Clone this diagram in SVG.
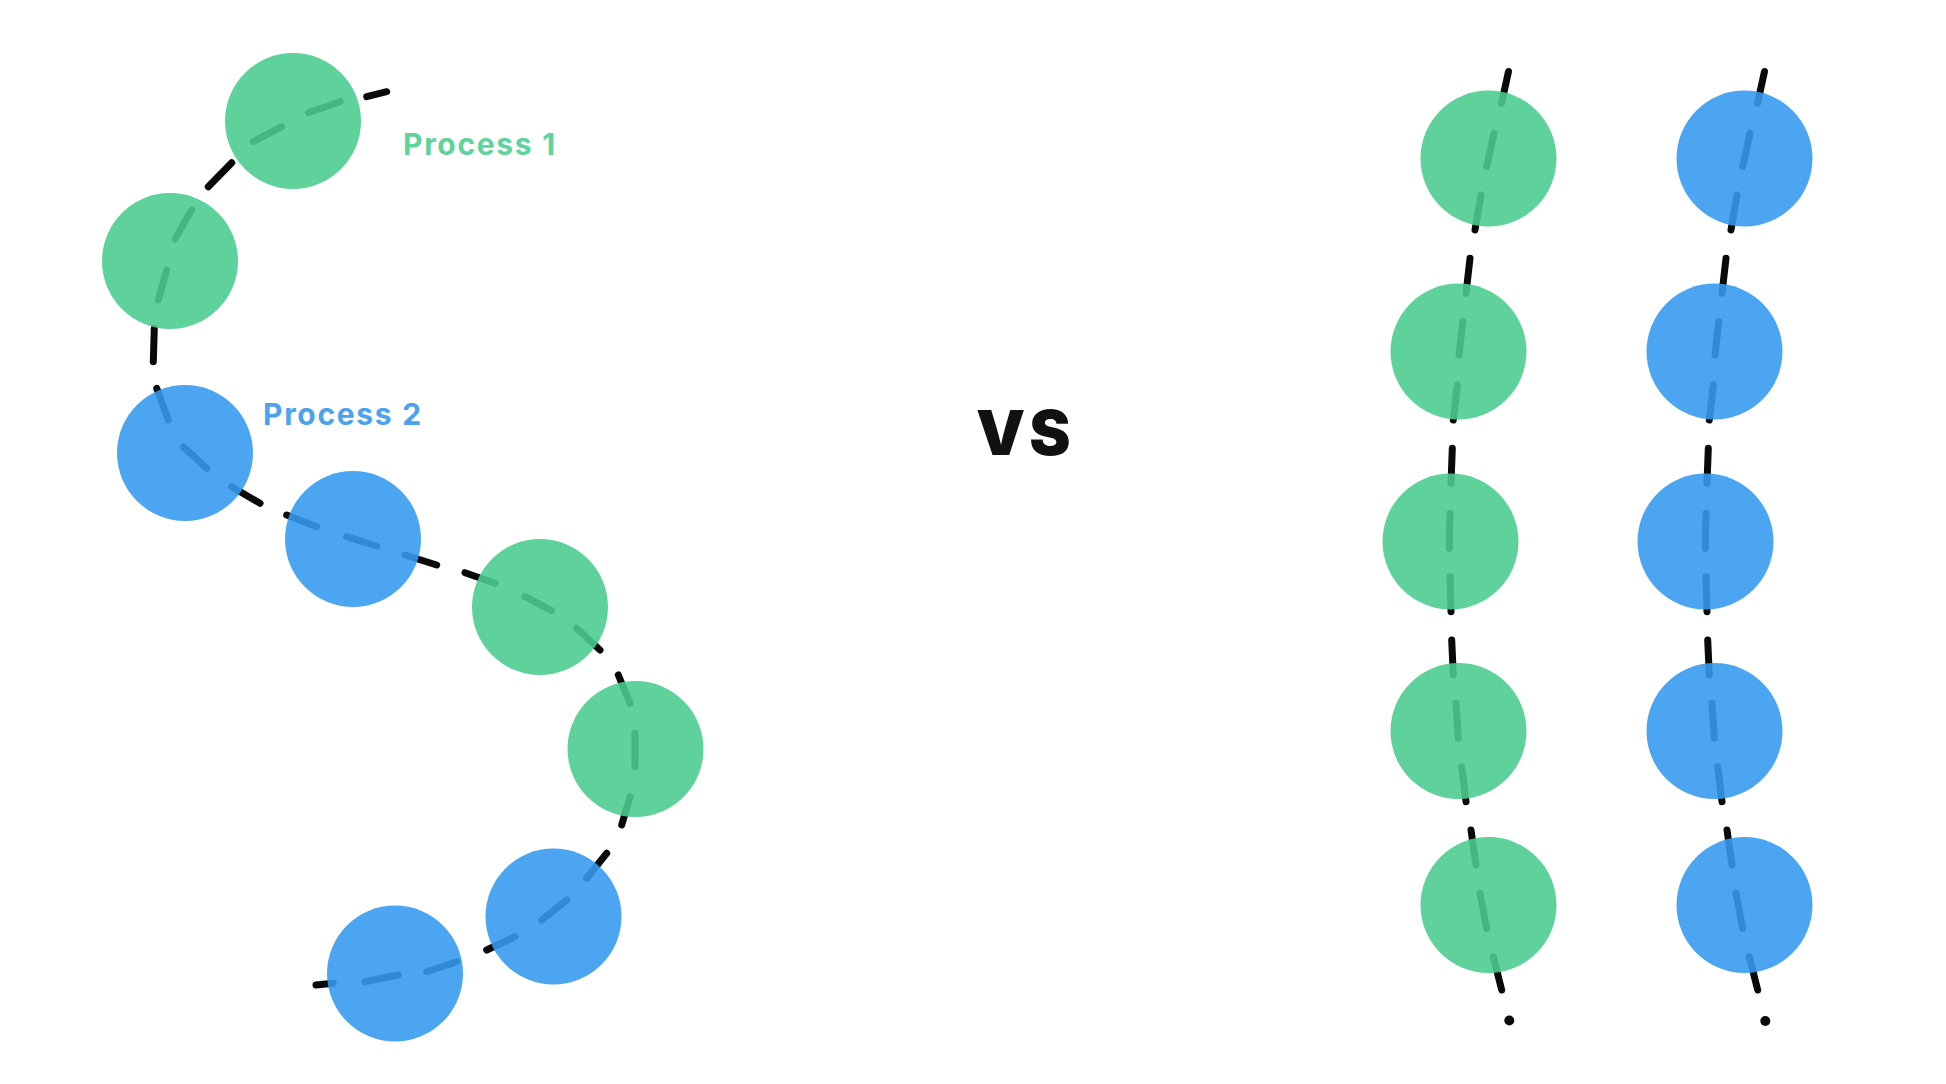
<svg xmlns="http://www.w3.org/2000/svg" width="1946" height="1084" viewBox="0 0 1946 1084">
  <style>
    .dash { fill: none; stroke: #0a0a0a; stroke-width: 7; stroke-linecap: round; stroke-linejoin: round; }
    .dot { fill: #0a0a0a; }
    .g { fill: #4acc8e; fill-opacity: 0.89; }
    .b { fill: #369aee; fill-opacity: 0.89; }
    .lbl { font-family: "Inter", "Liberation Sans", sans-serif; font-weight: 700; font-size: 30px; letter-spacing: 1.7px; }
    .vs { font-family: "Inter", "Liberation Sans", sans-serif; font-weight: 900; font-size: 62px; letter-spacing: 4px; fill: #111111; }
  </style>
  <rect width="1946" height="1084" fill="#ffffff"/>

  <g id="connectors">
    <path id="chain-left" class="dash" d="
      M386.7,91.7 L366.7,96.7
      M340,101.7 L308.3,112.7
      M281.7,126.7 L253.3,141.7
      M231.7,162.7 L208.3,186.7
      M191.7,210 L175,239
      M166.7,270 L158.3,300
      M154.3,328.3 L153.3,361.7
      M156.7,388.3 L168.3,420
      M183.3,446.7 L206.7,468.3
      M231.7,486.7 L260,503.3
      M286.7,515 L316.7,526.7
      M346.7,536.7 L376.7,546
      M405,555 L436.7,565
      M465,572.7 L495,583.3
      M525,596.7 L551.7,610.7
      M576.7,628.3 L600,650
      M618.3,675 L630,703.3
      M635,733.3 L635,766.7
      M630,796.7 L621.7,825
      M606.7,853.3 L586.7,878.3
      M566.7,900 L541.7,920
      M515,936.7 L486.7,950
      M456.7,961.7 L426.7,971.7
      M398.3,975 L365,981.7
      M333.3,983.3 L316,985"/>
    <path id="chain-right-1" class="dash" d="
      M1508.5,71.5 L1501.5,103.5
      M1494,133.3 L1486.7,166.7
      M1481,195 L1475,230
      M1470,258.3 L1466,293.3
      M1462.7,321.7 L1459,355
      M1457.3,385 L1453.3,420
      M1452.3,448.3 L1451,483.3
      M1450,513.3 L1449.3,548.3
      M1450,576.7 L1451,611.7
      M1451.7,640 L1453.3,675
      M1456,703.3 L1458.3,738.3
      M1461.7,766.7 L1466,801.7
      M1471,830 L1476,865
      M1480,893.3 L1486.7,928.3
      M1493.3,956.7 L1501.7,990"/>
    <circle class="dot" cx="1509.3" cy="1020.5" r="5"/>
    <path id="chain-right-2" class="dash" d="
      M1764.5,71.5 L1757.5,103.5
      M1750,133.3 L1742.7,166.7
      M1737,195 L1731,230
      M1726,258.3 L1722,293.3
      M1718.7,321.7 L1715,355
      M1713.3,385 L1709.3,420
      M1708.3,448.3 L1707,483.3
      M1706,513.3 L1705.3,548.3
      M1706,576.7 L1707,611.7
      M1707.7,640 L1709.3,675
      M1712,703.3 L1714.3,738.3
      M1717.7,766.7 L1722,801.7
      M1727,830 L1732,865
      M1736,893.3 L1742.7,928.3
      M1749.3,956.7 L1757.7,990"/>
    <circle class="dot" cx="1765.3" cy="1021" r="5"/>
  </g>

  <g id="left-p1-a"><circle class="g" cx="293" cy="121" r="68"/></g>
  <g id="left-p1-b"><circle class="g" cx="170" cy="261" r="68"/></g>
  <g id="left-p2-a"><circle class="b" cx="185" cy="453" r="68"/></g>
  <g id="left-p2-b"><circle class="b" cx="353" cy="539" r="68"/></g>
  <g id="left-p1-c"><circle class="g" cx="540" cy="607" r="68"/></g>
  <g id="left-p1-d"><circle class="g" cx="635.5" cy="749" r="68"/></g>
  <g id="left-p2-c"><circle class="b" cx="553.5" cy="916.5" r="68"/></g>
  <g id="left-p2-d"><circle class="b" cx="395" cy="973.5" r="68"/></g>

  <g id="right-p1-1"><circle class="g" cx="1488.5" cy="158.5" r="68"/></g>
  <g id="right-p1-2"><circle class="g" cx="1458.5" cy="351.5" r="68"/></g>
  <g id="right-p1-3"><circle class="g" cx="1450.5" cy="541.5" r="68"/></g>
  <g id="right-p1-4"><circle class="g" cx="1458.5" cy="731" r="68"/></g>
  <g id="right-p1-5"><circle class="g" cx="1488.5" cy="905" r="68"/></g>

  <g id="right-p2-1"><circle class="b" cx="1744.5" cy="158.5" r="68"/></g>
  <g id="right-p2-2"><circle class="b" cx="1714.5" cy="351.5" r="68"/></g>
  <g id="right-p2-3"><circle class="b" cx="1705.5" cy="541.5" r="68"/></g>
  <g id="right-p2-4"><circle class="b" cx="1714.5" cy="731" r="68"/></g>
  <g id="right-p2-5"><circle class="b" cx="1744.5" cy="905" r="68"/></g>

  <g id="label-process-1"><text class="lbl" x="403" y="155" fill="#5fd39c">Process 1</text></g>
  <g id="label-process-2"><text class="lbl" x="263" y="425" fill="#4aa3ec">Process 2</text></g>
  <g id="label-vs"><text class="vs" x="976" y="455">VS</text></g>
</svg>
